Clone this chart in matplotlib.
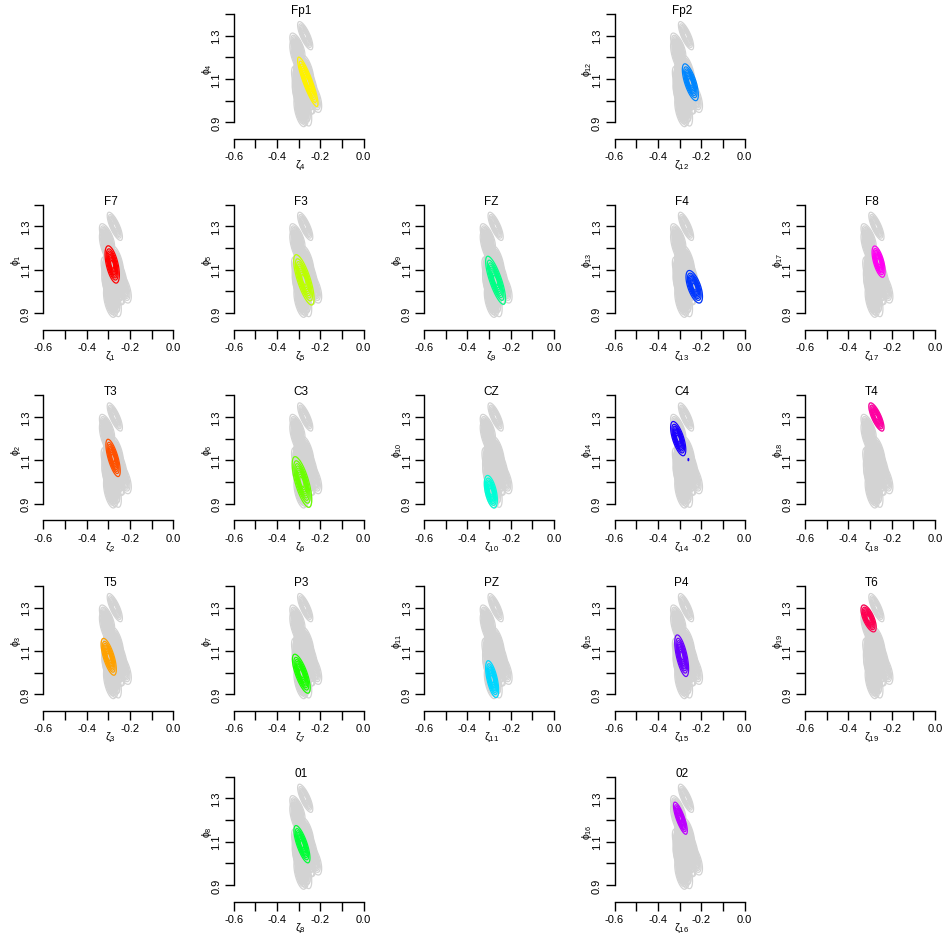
import colorsys

import matplotlib
matplotlib.use("Agg")
import matplotlib.pyplot as plt
import numpy as np

plt.rcParams["font.family"] = ["Liberation Sans", "DejaVu Sans"]
plt.rcParams["mathtext.fontset"] = "custom"
plt.rcParams["mathtext.rm"] = "Liberation Sans"
plt.rcParams["mathtext.it"] = "Liberation Sans"

# channel k = 1..19 (posterior of (zeta_k, phi_k) per electrode)
channels = ["F7", "T3", "T5", "Fp1", "F3", "C3", "P3", "01", "FZ", "CZ",
            "PZ", "Fp2", "F4", "C4", "P4", "02", "F8", "T4", "T6"]
zeta_mean = [-0.282, -0.278, -0.298, -0.258, -0.276, -0.285, -0.288, -0.285, -0.270, -0.292,
             -0.286, -0.250, -0.232, -0.306, -0.290, -0.296, -0.260, -0.270, -0.306]
phi_mean = [1.124, 1.111, 1.073, 1.087, 1.053, 1.000, 0.995, 1.088, 1.051, 0.955,
            0.970, 1.085, 1.021, 1.200, 1.078, 1.208, 1.137, 1.300, 1.250]
zeta_sd = [0.0154, 0.0154, 0.0163, 0.0219, 0.0219, 0.0210, 0.0191, 0.0172, 0.0214, 0.0140,
           0.0140, 0.0172, 0.0177, 0.0163, 0.0149, 0.0149, 0.0140, 0.0163, 0.0163]
phi_sd = [0.0401, 0.0401, 0.0396, 0.0531, 0.0541, 0.0545, 0.0419, 0.0401, 0.0517, 0.0350,
          0.0396, 0.0396, 0.0350, 0.0368, 0.0447, 0.0345, 0.0336, 0.0303, 0.0289]
rho = [-0.55, -0.70, -0.68, -0.88, -0.75, -0.70, -0.73, -0.74, -0.78, -0.50,
       -0.60, -0.68, -0.60, -0.65, -0.63, -0.78, -0.60, -0.75, -0.65]

# small secondary mode visible for C4
bump_channel = [14]
bump_zeta = [-0.259]
bump_phi = [1.103]
bump_sd_zeta = [0.002]
bump_sd_phi = [0.006]
bump_height = [0.13]

x_ticks = [-0.6, -0.5, -0.4, -0.3, -0.2, -0.1, 0.0]
x_tick_labels = ["-0.6", "", "-0.4", "", "-0.2", "", "0.0"]
y_ticks = [0.9, 1.0, 1.1, 1.2, 1.3, 1.4]
y_tick_labels = ["0.9", "", "1.1", "", "1.3", ""]
levels = [0.1, 0.2, 0.3, 0.4, 0.5, 0.6, 0.7, 0.8, 0.9]

# scalp layout: (row, col) of each channel's panel
grid_pos = {
    "Fp1": (0, 1), "Fp2": (0, 3),
    "F7": (1, 0), "F3": (1, 1), "FZ": (1, 2), "F4": (1, 3), "F8": (1, 4),
    "T3": (2, 0), "C3": (2, 1), "CZ": (2, 2), "C4": (2, 3), "T4": (2, 4),
    "T5": (3, 0), "P3": (3, 1), "PZ": (3, 2), "P4": (3, 3), "T6": (3, 4),
    "01": (4, 1), "02": (4, 3),
}

n = len(channels)
colors = [colorsys.hsv_to_rgb(i / n, 1.0, 1.0) for i in range(n)]

zz, pp = np.meshgrid(np.linspace(-0.45, -0.1, 351), np.linspace(0.8, 1.45, 651))
dens = []
for i in range(n):
    dx = (zz - zeta_mean[i]) / zeta_sd[i]
    dy = (pp - phi_mean[i]) / phi_sd[i]
    q = (dx ** 2 - 2 * rho[i] * dx * dy + dy ** 2) / (1 - rho[i] ** 2)
    d = np.exp(-0.5 * q)
    for b, ch in enumerate(bump_channel):
        if ch == i + 1:
            d = d + bump_height[b] * np.exp(-0.5 * (((zz - bump_zeta[b]) / bump_sd_zeta[b]) ** 2
                                                  + ((pp - bump_phi[b]) / bump_sd_phi[b]) ** 2))
    dens.append(d)

W, H = 946, 937
fig = plt.figure(figsize=(W / 100, H / 100), dpi=100)
px_per_unit = 130 / 0.6
ax_h = 125

for i, name in enumerate(channels):
    r, c = grid_pos[name]
    left = 43.3 + 190.4 * c
    top = 15 + 190.65 * r
    ax = fig.add_axes([left / W, 1 - (top + ax_h) / H, 130 / W, ax_h / H])
    ax.set_xlim(-0.6, 0.0)
    ax.set_ylim(1.4 - ax_h / px_per_unit, 1.4)

    for j in range(n):
        ax.contour(zz, pp, dens[j], levels=levels, colors="#d3d3d3", linewidths=0.9, zorder=1)
    ax.contour(zz, pp, dens[i], levels=levels, colors=[colors[i]], linewidths=0.9, zorder=2)

    for s in ["top", "right"]:
        ax.spines[s].set_visible(False)
    ax.spines["left"].set_bounds(0.9, 1.4)
    ax.spines["bottom"].set_bounds(-0.6, 0.0)
    ax.spines["left"].set_linewidth(1.0)
    ax.spines["bottom"].set_linewidth(1.0)

    ax.set_xticks(x_ticks, x_tick_labels)
    ax.set_yticks(y_ticks, y_tick_labels)
    ax.tick_params(direction="out", length=6.5, width=1.0, labelsize=8, pad=2.5)
    ax.tick_params(axis="y", labelrotation=90)
    for lbl in ax.get_yticklabels():
        lbl.set_verticalalignment("center")

    k = i + 1
    ax.annotate(name, xy=(-0.29, 1.0), xycoords=("data", "axes fraction"),
                xytext=(0, 2.8), textcoords="offset points",
                ha="center", va="center", fontsize=8.5)
    ax.annotate(rf"$\zeta_{{{k}}}$", xy=(-0.29, 0.0), xycoords=("data", "axes fraction"),
                xytext=(0, -18.5), textcoords="offset points",
                ha="center", va="center", fontsize=8)
    ax.annotate(rf"$\phi_{{{k}}}$", xy=(0.0, 1.15), xycoords=("axes fraction", "data"),
                xytext=(-19.5, 0), textcoords="offset points",
                ha="center", va="center", fontsize=7.5, rotation=90)

fig.savefig("out.png", dpi=100)
